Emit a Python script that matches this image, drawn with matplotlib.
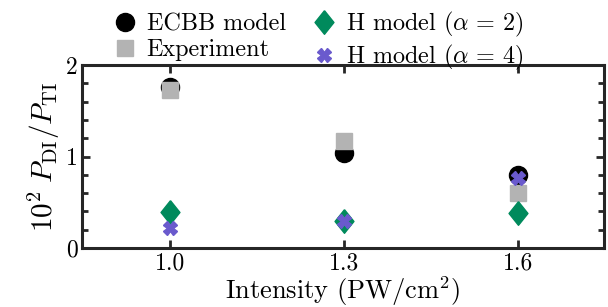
import matplotlib
matplotlib.use("Agg")
import matplotlib.pyplot as plt
from matplotlib.ticker import MultipleLocator

plt.rcParams['font.family'] = 'serif'
plt.rcParams['font.serif'] = ['cmr10']
plt.rcParams['mathtext.fontset'] = 'cm'
plt.rcParams['axes.formatter.use_mathtext'] = True

intensity = [1.0, 1.3, 1.6]
ecbb = [1.76, 1.04, 0.80]
experiment = [1.73, 1.17, 0.60]
h_alpha2 = [0.39, 0.30, 0.38]
h_alpha4 = [0.22, 0.30, 0.77]
xtick_labels = ['1.0', '1.3', '1.6']

diamond = [(0, 1), (0.8, 0), (0, -1), (-0.8, 0), (0, 1)]

fig = plt.figure(figsize=(6.08, 3.07), dpi=100)
ax = fig.add_axes([82/608, 1-248/307, (604-82)/608, (248-65)/307])

ax.plot(intensity, ecbb, 'o', color='black', ms=13, label='ECBB model', zorder=3)
ax.plot(intensity, experiment, 's', color='#b3b3b3', ms=11.5, label='Experiment', zorder=3)
ax.plot(intensity, h_alpha2, marker=diamond, ls='none', color='#008a5c', ms=17, label=r'H model ($\alpha\,=\,2$)', zorder=4)
ax.plot(intensity, h_alpha4, 'X', color='#6a5acd', ms=10, label=r'H model ($\alpha\,=\,4$)', zorder=5)

ax.set_xlim(0.848, 1.748)
ax.set_ylim(0, 2)
ax.set_xticks(intensity)
ax.set_xticklabels(xtick_labels)
ax.set_yticks([0, 1, 2])
ax.set_yticklabels(['0', '1', '2'])
ax.yaxis.set_minor_locator(MultipleLocator(0.2))

for s in ax.spines.values():
    s.set_linewidth(2.2)
    s.set_color('#262626')
ax.tick_params(axis='both', which='major', direction='in', length=6, width=2, color='#262626',
               labelsize=17, top=True, right=True, pad=3)
ax.tick_params(axis='y', which='minor', direction='in', length=4, width=2, color='#262626', right=True)
ax.tick_params(axis='y', which='major', pad=3)

ax.set_xlabel(r'Intensity (PW/cm$^2$)', fontsize=19, labelpad=0)
ax.set_ylabel(r'$10^2\; P_{\mathrm{DI}}/P_{\mathrm{TI}}$', fontsize=21, labelpad=3)

ax.legend(ncol=2, loc='lower center', bbox_to_anchor=(0.45, 0.91), frameon=False,
          fontsize=17.4, handletextpad=0.3, columnspacing=1.0, labelspacing=0.15, borderaxespad=0,
          handlelength=1.2)

fig.savefig('out.png', dpi=100)
